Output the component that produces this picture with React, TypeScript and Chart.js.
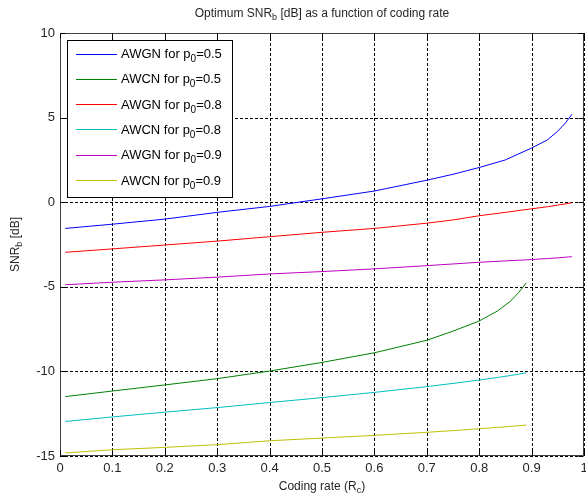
import React, { useEffect, useRef } from "react";
import { Chart, registerables } from "chart.js";
Chart.register(...registerables);

// ---- data ----
const rateLong = [0.01, 0.1, 0.2, 0.3, 0.4, 0.5, 0.6, 0.7, 0.75, 0.8, 0.85, 0.9, 0.93, 0.95, 0.965, 0.977];
const awgn05 = [-1.55, -1.3, -1.0, -0.6, -0.25, 0.2, 0.66, 1.3, 1.65, 2.05, 2.5, 3.2, 3.68, 4.2, 4.7, 5.2];
const awgn08 = [-2.96, -2.76, -2.53, -2.3, -2.04, -1.78, -1.55, -1.24, -1.05, -0.8, -0.6, -0.39, -0.27, -0.17, -0.1, -0.03];
const awgn09 = [-4.88, -4.73, -4.59, -4.43, -4.24, -4.1, -3.94, -3.75, -3.65, -3.55, -3.47, -3.39, -3.33, -3.29, -3.25, -3.22];

const rateShort = [0.01, 0.1, 0.2, 0.3, 0.4, 0.5, 0.6, 0.7, 0.75, 0.8, 0.835, 0.86, 0.875, 0.89];
const awcn05 = [-11.49, -11.16, -10.8, -10.43, -9.98, -9.47, -8.9, -8.16, -7.62, -7.02, -6.43, -5.84, -5.35, -4.76];
const awcn08 = [-12.96, -12.69, -12.41, -12.14, -11.84, -11.55, -11.24, -10.9, -10.71, -10.51, -10.36, -10.24, -10.17, -10.08];
const awcn09 = [-14.82, -14.63, -14.49, -14.33, -14.1, -13.94, -13.78, -13.6, -13.5, -13.39, -13.31, -13.25, -13.21, -13.17];

const seriesNames = ["AWGN", "AWCN", "AWGN", "AWCN", "AWGN", "AWCN"];
const seriesP0 = ["0.5", "0.5", "0.8", "0.8", "0.9", "0.9"];
const seriesColors = ["#0000ff", "#008000", "#ff0000", "#00bfbf", "#bf00bf", "#bfbf00"];

const xTicks = [0, 0.1, 0.2, 0.3, 0.4, 0.5, 0.6, 0.7, 0.8, 0.9, 1];
const xTickLabels = ["0", "0.1", "0.2", "0.3", "0.4", "0.5", "0.6", "0.7", "0.8", "0.9", "1"];
const yTicks = [-15, -10, -5, 0, 5, 10];
const yTickLabels = ["-15", "-10", "-5", "0", "5", "10"];

const FONT = '"Liberation Sans", Arial, sans-serif';
const TEXT = "#262626";

type Part = { t: string; sub?: boolean };

function partsWidth(ctx: CanvasRenderingContext2D, parts: Part[], size: number, subSize: number) {
  let w = 0;
  for (const p of parts) {
    ctx.font = `${p.sub ? subSize : size}px ${FONT}`;
    w += ctx.measureText(p.t).width;
  }
  return w;
}

function drawParts(
  ctx: CanvasRenderingContext2D,
  parts: Part[],
  x: number,
  y: number,
  size: number,
  subSize: number,
  subDy: number,
  align: "left" | "center"
) {
  let cx = x;
  if (align === "center") cx = x - partsWidth(ctx, parts, size, subSize) / 2;
  ctx.textAlign = "left";
  ctx.textBaseline = "alphabetic";
  for (const p of parts) {
    ctx.font = `${p.sub ? subSize : size}px ${FONT}`;
    ctx.fillText(p.t, cx, p.sub ? y + subDy : y);
    cx += ctx.measureText(p.t).width;
  }
}

const decor = {
  id: "decor",
  beforeDatasetsDraw(chart: any) {
    const { ctx, chartArea: a, scales } = chart;
    const xs = scales.x;
    const ys = scales.y;
    ctx.save();
    ctx.strokeStyle = "#000";
    ctx.lineWidth = 1;
    ctx.setLineDash([3, 2]);
    for (const v of xTicks) {
      const px = Math.round(xs.getPixelForValue(v)) + 0.5;
      ctx.beginPath();
      ctx.moveTo(px, a.top);
      ctx.lineTo(px, a.bottom);
      ctx.stroke();
    }
    for (const v of yTicks) {
      const py = Math.round(ys.getPixelForValue(v)) + 0.5;
      ctx.beginPath();
      ctx.moveTo(a.left, py);
      ctx.lineTo(a.right, py);
      ctx.stroke();
    }
    ctx.restore();
  },
  afterDraw(chart: any) {
    const { ctx, chartArea: a, scales } = chart;
    const xs = scales.x;
    const ys = scales.y;
    ctx.save();
    // axes box
    ctx.setLineDash([]);
    ctx.strokeStyle = "#404040";
    ctx.lineWidth = 1;
    const L = Math.round(a.left) + 0.5;
    const R = Math.round(a.right) - 0.5;
    const T = Math.round(a.top) + 0.5;
    const B = Math.round(a.bottom) - 0.5;
    ctx.strokeRect(L, T, R - L, B - T);
    // inward ticks
    ctx.strokeStyle = "#000";
    for (const v of xTicks) {
      const px = Math.round(xs.getPixelForValue(v)) + 0.5;
      ctx.beginPath();
      ctx.moveTo(px, B);
      ctx.lineTo(px, B - 5);
      ctx.moveTo(px, T);
      ctx.lineTo(px, T + 5);
      ctx.stroke();
    }
    for (const v of yTicks) {
      const py = Math.round(ys.getPixelForValue(v)) + 0.5;
      ctx.beginPath();
      ctx.moveTo(L, py);
      ctx.lineTo(L + 5, py);
      ctx.moveTo(R, py);
      ctx.lineTo(R - 5, py);
      ctx.stroke();
    }

    // legend
    const lx = a.left + 7;
    const ly = a.top + 7;
    const lw = 165;
    const lh = 157;
    ctx.fillStyle = "#fff";
    ctx.fillRect(lx, ly, lw, lh);
    ctx.strokeStyle = "#000";
    ctx.strokeRect(Math.round(lx) + 0.5, Math.round(ly) + 0.5, lw, lh);
    chart.data.datasets.forEach((ds: any, i: number) => {
      const cy = ly + 13.5 + i * 25.3;
      ctx.strokeStyle = ds.borderColor;
      ctx.lineWidth = 1;
      ctx.beginPath();
      ctx.moveTo(lx + 9, Math.round(cy) + 0.5);
      ctx.lineTo(lx + 50, Math.round(cy) + 0.5);
      ctx.stroke();
      ctx.fillStyle = "#000";
      drawParts(
        ctx,
        [{ t: `${seriesNames[i]} for p` }, { t: "0", sub: true }, { t: `=${seriesP0[i]}` }],
        lx + 54,
        cy + 4.5,
        13,
        10,
        4,
        "left"
      );
    });

    // title
    ctx.fillStyle = TEXT;
    const cx = (a.left + a.right) / 2;
    drawParts(
      ctx,
      [{ t: "Optimum SNR" }, { t: "b", sub: true }, { t: " [dB] as a function of coding rate" }],
      cx,
      17,
      12,
      9,
      3,
      "center"
    );
    // x label
    drawParts(ctx, [{ t: "Coding rate (R" }, { t: "c", sub: true }, { t: ")" }], cx, 490, 12, 9, 3, "center");
    // y label
    ctx.translate(19, (a.top + a.bottom) / 2);
    ctx.rotate(-Math.PI / 2);
    drawParts(ctx, [{ t: "SNR" }, { t: "b", sub: true }, { t: " [dB]" }], 0, 0, 12, 9, 3, "center");
    ctx.restore();
  },
};

function toPoints(xs: number[], ys: number[]) {
  return xs.map((x, i) => ({ x, y: ys[i] }));
}

export default function App() {
  const ref = useRef<HTMLCanvasElement>(null);
  useEffect(() => {
    document.body.style.margin = "0";
    const canvas = ref.current!;
    const seriesData = [
      toPoints(rateLong, awgn05),
      toPoints(rateShort, awcn05),
      toPoints(rateLong, awgn08),
      toPoints(rateShort, awcn08),
      toPoints(rateLong, awgn09),
      toPoints(rateShort, awcn09),
    ];
    const chart = new Chart(canvas, {
      type: "scatter",
      data: {
        datasets: seriesData.map((d, i) => ({
          label: `${seriesNames[i]} for p0=${seriesP0[i]}`,
          data: d,
          showLine: true,
          borderColor: seriesColors[i],
          backgroundColor: seriesColors[i],
          borderWidth: 1,
          pointRadius: 0,
          tension: 0,
        })),
      },
      options: {
        animation: false,
        responsive: false,
        devicePixelRatio: 1,
        layout: { padding: { top: 33, left: 0, right: 2, bottom: 0 } },
        plugins: { legend: { display: false }, tooltip: { enabled: false }, title: { display: false } },
        scales: {
          x: {
            type: "linear",
            min: 0,
            max: 1,
            grid: { display: false, drawTicks: false },
            border: { display: false },
            afterBuildTicks: (s: any) => {
              s.ticks = xTicks.map((v) => ({ value: v }));
            },
            afterFit: (s: any) => {
              s.height = 45;
              s.paddingLeft = 0;
              s.paddingRight = 0;
            },
            ticks: {
              padding: 5,
              color: TEXT,
              font: { family: FONT, size: 13 },
              maxRotation: 0,
              autoSkip: false,
              callback: (v: any) => {
                const i = xTicks.findIndex((t) => Math.abs(t - v) < 1e-9);
                return i >= 0 ? xTickLabels[i] : "";
              },
            },
          },
          y: {
            type: "linear",
            min: -15,
            max: 10,
            grid: { display: false, drawTicks: false },
            border: { display: false },
            afterBuildTicks: (s: any) => {
              s.ticks = yTicks.map((v) => ({ value: v }));
            },
            afterFit: (s: any) => {
              s.width = 60;
              s.paddingTop = 0;
              s.paddingBottom = 0;
            },
            ticks: {
              padding: 5,
              color: TEXT,
              font: { family: FONT, size: 13 },
              autoSkip: false,
              callback: (v: any) => {
                const i = yTicks.findIndex((t) => Math.abs(t - v) < 1e-9);
                return i >= 0 ? yTickLabels[i] : "";
              },
            },
          },
        },
      },
      plugins: [decor],
    });
    return () => chart.destroy();
  }, []);
  return (
    <div style={{ width: 586, height: 501, background: "#fff" }}>
      <canvas ref={ref} width={586} height={501} style={{ display: "block" }} />
    </div>
  );
}
